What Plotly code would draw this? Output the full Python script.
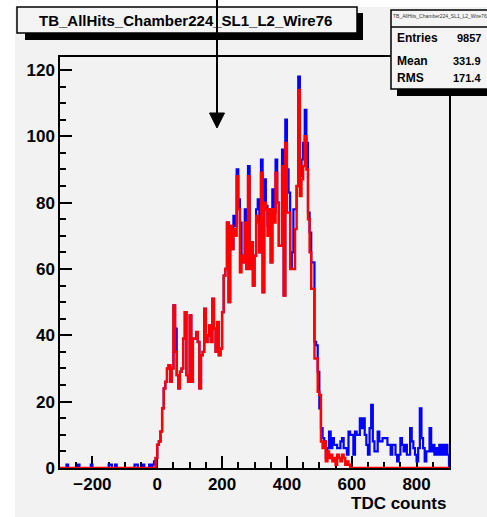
import plotly.graph_objects as go

# ---------------- data ----------------
bin_start = -300
bin_width = 5

# blue histogram (all hits), 240 bins of width 5 from -300 to 900
blue_pre = [0, 0, 0, 0, 1, 0, 0, 0, 0, 0,
            0, 1, 0, 0, 0, 0, 0, 0, 0, 1,
            0, 0, 0, 0, 0, 0, 0, 0, 0, 0,
            1, 1, 0, 0, 1, 0, 0, 0, 0, 0,
            0, 0, 0, 0, 0, 0, 1, 1, 0, 0,
            0, 1, 0, 0, 0, 1, 0, 1, 2, 3]
blue_rise = [7, 8, 11, 18, 24, 26, 30, 31, 26, 30,
             49, 42, 28, 24, 29, 30, 39, 47, 28, 26,
             46, 26, 39, 39, 41, 38, 24, 34, 35, 48,
             38, 40, 43, 38, 51, 42, 35, 44, 34, 36,
             47, 58, 60, 74, 50, 73, 66, 76, 73, 90,
             81, 74, 64, 62, 78, 60, 91, 60, 68, 55,
             64, 78, 81, 65, 93, 53, 87, 79, 73, 78,
             62, 84, 77, 93, 80, 67]
blue_peak = [67, 96, 52, 105, 90, 83, 60, 65, 78, 78,
             85, 118, 88, 93, 98, 108, 98, 77, 71, 62,
             62, 38, 37, 29]
blue_edge = [18, 12, 9, 8, 3, 6, 11, 6, 9, 7,
             7, 6, 6, 8, 9, 6, 6, 4, 11, 10]
blue_tail = [10, 4, 11, 10, 10, 15, 12, 15, 10, 7,
             4, 12, 19, 8, 5, 5, 11, 8, 8, 9,
             9, 9, 7, 7, 4, 7, 7, 4, 2, 4,
             9, 7, 5, 7, 4, 4, 12, 8, 6, 4,
             2, 6, 18, 9, 6, 2, 5, 5, 12, 5,
             7, 4, 6, 4, 7, 4, 7, 4, 7, 4]

# red histogram (selected hits)
red_pre = [0] * 59 + [3]
red_rise = [7, 8, 11, 18, 24, 26, 30, 31, 26, 30,
            49, 35, 28, 24, 29, 30, 39, 47, 28, 26,
            46, 26, 39, 39, 41, 38, 24, 34, 35, 48,
            38, 40, 43, 38, 51, 42, 35, 44, 34, 36,
            47, 58, 60, 74, 50, 73, 66, 72, 70, 88,
            78, 59, 64, 62, 74, 60, 88, 60, 68, 55,
            64, 76, 74, 65, 89, 53, 80, 78, 70, 78,
            62, 78, 74, 89, 80, 67]
red_peak = [67, 91, 52, 98, 77, 77, 60, 60, 60, 72,
            85, 114, 82, 87, 91, 100, 90, 75, 65, 54,
            54, 33, 33, 23]
red_edge = [22, 8, 6, 8, 2, 5, 3, 4, 2, 3,
            1, 4, 3, 2, 4, 3, 1, 2, 1, 0]
red_tail = [0] * 60

blue_counts = blue_pre + blue_rise + blue_peak + blue_edge + blue_tail
red_counts = red_pre + red_rise + red_peak + red_edge + red_tail

x_ticks = [-200, 0, 200, 400, 600, 800]
y_ticks = [0, 20, 40, 60, 80, 100, 120]
hist_title = "TB_AllHits_Chamber224_SL1_L2_Wire76"
stats = [("Entries", "9857"), ("Mean", "331.9"), ("RMS", "171.4")]
x_title = "TDC counts"

# ---------------- geometry helpers ----------------
W, H = 487, 517
L, R, T, B = 60, 449, 57, 468


def fx(px):
    return (px - L) / (R - L)


def fy(py):
    return (B - py) / (B - T)


def steps(counts):
    n = len(counts)
    edges = [bin_start + i * bin_width for i in range(n + 1)]
    xs = [edges[0]] + edges + [edges[-1]]
    ys = [0] + list(counts) + [counts[-1], 0]
    return xs, ys


fig = go.Figure()
bx, by = steps(blue_counts)
rx, ry = steps(red_counts)
fig.add_trace(go.Scatter(x=bx, y=by, mode="lines", line=dict(color="#0000ff", width=2.2, shape="hv"),
                         hoverinfo="skip", showlegend=False))
fig.add_trace(go.Scatter(x=rx, y=ry, mode="lines", line=dict(color="#ff0000", width=2.4, shape="hv"),
                         hoverinfo="skip", showlegend=False))

font_fam = "Liberation Sans, Arial, sans-serif"
axis_common = dict(showline=True, linecolor="black", linewidth=1.5, mirror=True,
                   ticks="inside", ticklen=12, tickwidth=1.5, tickcolor="black",
                   showgrid=False, zeroline=False,
                   tickfont=dict(family=font_fam, size=17, color="black", weight="bold"))

fig.update_xaxes(range=[-300, 900], tickvals=x_ticks,
                 minor=dict(ticks="inside", ticklen=6, tickwidth=1.5, tickcolor="black", dtick=50, tick0=0),
                 layer="below traces", **axis_common)
fig.update_yaxes(range=[0, 123.9], tickvals=y_ticks,
                 minor=dict(ticks="inside", ticklen=6, tickwidth=1.5, tickcolor="black", dtick=5, tick0=0),
                 **axis_common)

shapes = []
# white margins of the canvas
shapes.append(dict(type="rect", xref="paper", yref="paper", x0=fx(0), x1=fx(15), y0=fy(H + 100), y1=fy(0),
                   fillcolor="white", line=dict(width=0), layer="below"))
shapes.append(dict(type="rect", xref="paper", yref="paper", x0=fx(0), x1=fx(W), y0=fy(7), y1=fy(0),
                   fillcolor="white", line=dict(width=0), layer="below"))
# title box with shadow
shapes.append(dict(type="rect", xref="paper", yref="paper", x0=fx(25), x1=fx(363), y0=fy(40), y1=fy(13),
                   fillcolor="black", line=dict(width=0), layer="above"))
shapes.append(dict(type="rect", xref="paper", yref="paper", x0=fx(17), x1=fx(357), y0=fy(33), y1=fy(7),
                   fillcolor="#f4f4f4", line=dict(color="black", width=1.5), layer="above"))
# stats box with shadow
shapes.append(dict(type="rect", xref="paper", yref="paper", x0=fx(397), x1=fx(495), y0=fy(96), y1=fy(16),
                   fillcolor="black", line=dict(width=0), layer="above"))
shapes.append(dict(type="rect", xref="paper", yref="paper", x0=fx(391), x1=fx(495), y0=fy(89), y1=fy(10),
                   fillcolor="#f4f4f4", line=dict(color="black", width=1.5), layer="above"))
shapes.append(dict(type="line", xref="paper", yref="paper", x0=fx(391), x1=fx(495), y0=fy(27), y1=fy(27),
                   line=dict(color="black", width=1.5), layer="above"))
# arrow
shapes.append(dict(type="line", xref="paper", yref="paper", x0=fx(217), x1=fx(217), y0=fy(0), y1=fy(115),
                   line=dict(color="black", width=2), layer="above"))
shapes.append(dict(type="path", xref="paper", yref="paper",
                   path=f"M {fx(209.5)} {fy(113)} L {fx(224.5)} {fy(113)} L {fx(217)} {fy(128)} Z",
                   fillcolor="black", line=dict(color="black", width=1), layer="above"))

annotations = [
    dict(text=hist_title, xref="paper", yref="paper", x=fx(185), y=fy(20), xanchor="center", yanchor="middle",
         showarrow=False, font=dict(family=font_fam, size=15, color="black", weight="bold")),
    dict(text=hist_title, xref="paper", yref="paper", x=fx(440), y=fy(16), xanchor="center", yanchor="middle",
         showarrow=False, font=dict(family=font_fam, size=5, color="#333333")),
    dict(text=x_title, xref="paper", yref="paper", x=fx(448), y=fy(504), xanchor="right", yanchor="middle",
         showarrow=False, font=dict(family=font_fam, size=17, color="black", weight="bold")),
]
row_y = [38, 61, 78]
for (lab, val), yy in zip(stats, row_y):
    annotations.append(dict(text=lab, xref="paper", yref="paper", x=fx(395), y=fy(yy), xanchor="left",
                            yanchor="middle", showarrow=False,
                            font=dict(family=font_fam, size=12, color="black", weight="bold")))
    annotations.append(dict(text=val, xref="paper", yref="paper", x=fx(483), y=fy(yy), xanchor="right",
                            yanchor="middle", showarrow=False,
                            font=dict(family=font_fam, size=11, color="black", weight="bold")))

fig.update_layout(width=W, height=H, margin=dict(l=L, r=W - R, t=T, b=H - B, pad=0),
                  paper_bgcolor="#f2f2f2", plot_bgcolor="#f2f2f2",
                  shapes=shapes, annotations=annotations, showlegend=False)

fig.write_html("out.html")
